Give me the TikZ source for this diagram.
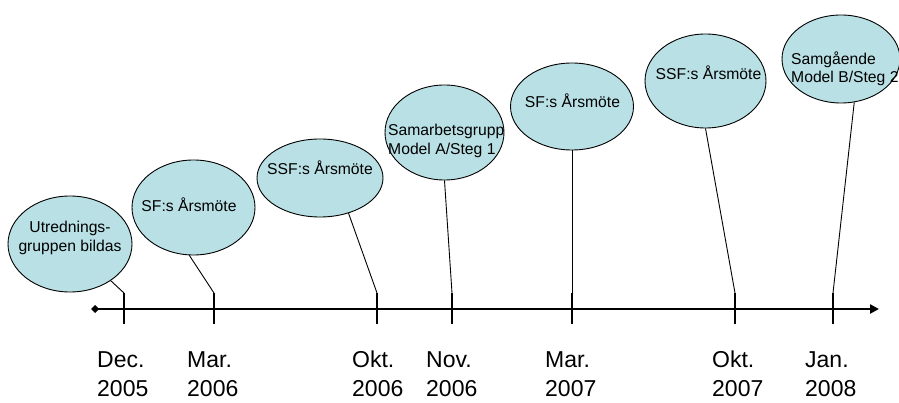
\documentclass[tikz,border=0pt]{standalone}
\usepackage{fontspec}
\setmainfont{Liberation Sans}
\usetikzlibrary{shapes.geometric,arrows.meta}
\definecolor{bubble}{RGB}{185,225,229}
\tikzset{
  bub/.style={ellipse, draw=black, line width=0.9pt, fill=bubble, inner sep=0pt},
  btext/.style={font=\fontsize{15.7}{18.5}\selectfont, inner sep=0pt},
  dtext/.style={font=\fontsize{23}{29}\selectfont, inner sep=0pt, align=left, anchor=base west},
  axisline/.style={line width=2.6pt, {Diamond[length=8pt,width=8pt]}-{Triangle[length=9pt,width=9pt]}},
  tickline/.style={line width=2.8pt},
  conn/.style={line width=0.9pt}
}
\begin{document}
\begin{tikzpicture}[x=1pt,y=-1pt]
\useasboundingbox (0,0) rectangle (899,403);
% axis
\coordinate (L) at (91,309);
\coordinate (R) at (879,309);
\draw[axisline] (L) -- (R);
% ticks
\foreach \n/\x in {1/124,2/214,3/377,4/452,5/572,6/735,7/833}{
  \coordinate (top\n) at (\x,293);
  \coordinate (bot\n) at (\x,324);
  \draw[tickline] (top\n) -- (bot\n);
}
% bubbles
\node[bub, minimum width=124pt, minimum height=96pt] (e1) at (70,244) {};
\node[bub, minimum width=123pt, minimum height=95pt] (e2) at (193.5,207.5) {};
\node[bub, minimum width=126pt, minimum height=78pt] (e3) at (320,178) {};
\node[bub, minimum width=119pt, minimum height=95pt] (e4) at (444.5,132.5) {};
\node[bub, minimum width=123pt, minimum height=87pt] (e5) at (572,106.5) {};
\node[bub, minimum width=121pt, minimum height=94pt] (e6) at (705.5,81) {};
\node[bub, minimum width=118pt, minimum height=88pt] (e7) at (841,59) {};
% bubble texts
\node[btext, align=center] (t1) at (70,238) {Utrednings-\\gruppen bildas};
\node[btext] (t2) at (189,205) {SF:s Årsmöte};
\node[btext] (t3) at (320,168) {SSF:s Årsmöte};
\node[btext, align=left, anchor=west] (t4) at (388,141) {Samarbetsgrupp\\Model A/Steg 1};
\node[btext] (t5) at (572.5,101) {SF:s Årsmöte};
\node[btext] (t6) at (708.5,73) {SSF:s Årsmöte};
\node[btext, align=left, anchor=west] (t7) at (791,69) {Samgående\\Model B/Steg 2};
% connectors
\draw[conn] (e1.-42) -- (top1);
\draw[conn] (e2.-95) -- (top2);
\draw[conn] (e3.-51) -- (top3);
\draw[conn] (e4.south) -- (top4);
\draw[conn] (e5.south) -- (top5);
\draw[conn] (e6.south) -- (top6);
\draw[conn] (e7.-73.5) -- (top7);
% dates
\node[dtext] (d1) at (97,396) {Dec.\\2005};
\node[dtext] (d2) at (187,396) {Mar.\\2006};
\node[dtext] (d3) at (352,396) {Okt.\\2006};
\node[dtext] (d4) at (426,396) {Nov.\\2006};
\node[dtext] (d5) at (545,396) {Mar.\\2007};
\node[dtext] (d6) at (712,396) {Okt.\\2007};
\node[dtext] (d7) at (805,396) {Jan.\\2008};
\end{tikzpicture}
\end{document}
